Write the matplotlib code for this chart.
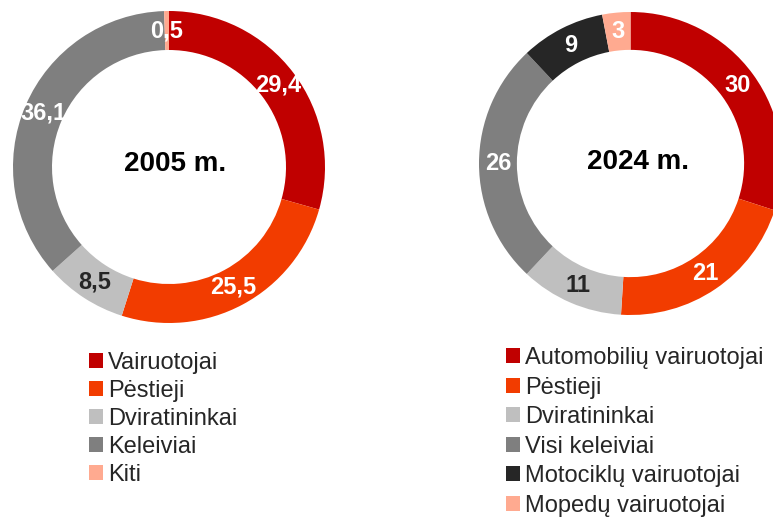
import matplotlib
matplotlib.use("Agg")
import matplotlib.pyplot as plt
import numpy as np

plt.rcParams["font.family"] = ["Liberation Sans", "DejaVu Sans"]

# 2005 shares, clockwise from the top
labels_2005 = ["Vairuotojai", "Pėstieji", "Dviratininkai", "Keleiviai", "Kiti"]
values_2005 = [29.4, 25.5, 8.5, 36.1, 0.5]
text_2005 = ["29,4", "25,5", "8,5", "36,1", "0,5"]
colors_2005 = ["#C00000", "#F23C00", "#BFBFBF", "#7F7F7F", "#FFAA90"]

# 2024 shares, clockwise from the top
labels_2024 = ["Automobilių vairuotojai", "Pėstieji", "Dviratininkai",
               "Visi keleiviai", "Motociklų vairuotojai", "Mopedų vairuotojai"]
values_2024 = [30, 21, 11, 26, 9, 3]
text_2024 = ["30", "21", "11", "26", "9", "3"]
colors_2024 = ["#C00000", "#F23C00", "#BFBFBF", "#7F7F7F", "#262626", "#FFAA90"]

W, H = 773, 517
fig = plt.figure(figsize=(W / 100, H / 100), dpi=100)


def donut(rect, values, texts, colors, title, title_off):
    ax = fig.add_axes(rect)
    wedges, _ = ax.pie(values, colors=colors, startangle=90, counterclock=False,
                       radius=1, wedgeprops=dict(width=0.25, linewidth=0))
    for w, t, c in zip(wedges, texts, colors):
        ang = np.deg2rad((w.theta1 + w.theta2) / 2)
        tc = "#262626" if c == "#BFBFBF" else "white"
        ax.text(0.875 * np.cos(ang), 0.875 * np.sin(ang), t, ha="center",
                va="center", fontsize=17, fontweight="bold", color=tc)
    ax.text(title_off[0], title_off[1], title, ha="center", va="center",
            fontsize=20, fontweight="bold", color="black")
    ax.set_xlim(-1, 1)
    ax.set_ylim(-1, 1)
    ax.axis("off")
    return wedges


def px_rect(cx, cy, r):
    return [(cx - r) / W, (H - cy - r) / H, 2 * r / W, 2 * r / H]


w1 = donut(px_rect(169, 167, 156), values_2005, text_2005, colors_2005,
           "2005 m.", (0.04, 0.02))
w2 = donut(px_rect(630.5, 163.5, 151.5), values_2024, text_2024, colors_2024,
           "2024 m.", (0.05, 0.01))

leg_kw = dict(frameon=False, fontsize=17, handlelength=0.6, handleheight=0.6,
              handletextpad=0.22, borderpad=0, borderaxespad=0, loc="upper left",
              labelcolor="#262626")
fig.legend(w1, labels_2005, bbox_to_anchor=(89 / W, (H - 352) / H),
           labelspacing=0.25, **leg_kw)
fig.legend(w2, labels_2024, bbox_to_anchor=(506 / W, (H - 347) / H),
           labelspacing=0.32, **leg_kw)

fig.savefig("out.png", dpi=100)
